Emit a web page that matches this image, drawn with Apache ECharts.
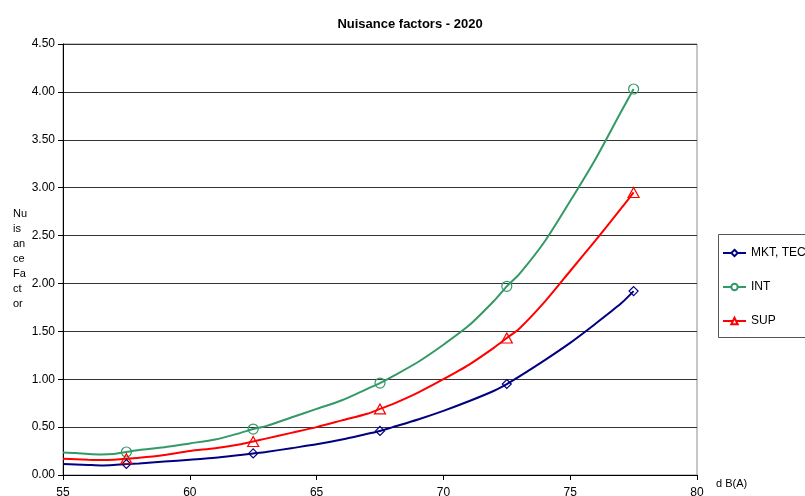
<!DOCTYPE html>
<html>
<head>
<meta charset="utf-8">
<script src="https://cdn.jsdelivr.net/npm/echarts@6/dist/echarts.min.js"></script>
<style>
  html, body { margin: 0; padding: 0; background: #fff; }
  #chart { width: 805px; height: 496px; }
</style>
</head>
<body>
<div id="chart"></div>
<script>
// Sound level (dB(A)) sample positions along each curve
var dbLevels = [55, 55.5, 56, 56.5, 57, 57.5, 58, 59, 60, 61, 62, 62.5, 63, 64, 65, 66, 67, 67.5,
                68, 69, 70, 71, 72, 72.5, 73, 74, 75, 76, 77, 77.5];
// Levels where a marker is drawn
var markerLevels = [57.5, 62.5, 67.5, 72.5, 77.5];

var seriesNames = ['MKT, TEC', 'INT', 'SUP'];

var mktTec = [0.115, 0.11, 0.105, 0.10, 0.105, 0.115, 0.12, 0.14, 0.16, 0.18, 0.21, 0.225, 0.24, 0.28, 0.32, 0.37, 0.43, 0.46,
              0.50, 0.58, 0.67, 0.77, 0.88, 0.95, 1.03, 1.20, 1.38, 1.58, 1.79, 1.92];
var intVals = [0.235, 0.23, 0.22, 0.215, 0.22, 0.24, 0.26, 0.29, 0.33, 0.37, 0.44, 0.48, 0.51, 0.60, 0.69, 0.78, 0.90, 0.96,
               1.03, 1.18, 1.36, 1.56, 1.82, 1.97, 2.10, 2.44, 2.86, 3.30, 3.79, 4.03];
var supVals = [0.17, 0.165, 0.16, 0.157, 0.16, 0.17, 0.18, 0.21, 0.25, 0.28, 0.32, 0.35, 0.38, 0.44, 0.50, 0.57, 0.64, 0.69,
               0.74, 0.86, 1.00, 1.15, 1.33, 1.43, 1.53, 1.81, 2.13, 2.45, 2.78, 2.95];

var yTicks = [0, 0.5, 1, 1.5, 2, 2.5, 3, 3.5, 4, 4.5];

var FONT = '"Liberation Sans", Arial, sans-serif';

function buildData(values) {
  return dbLevels.map(function (x, i) {
    var item = { value: [x, values[i]] };
    if (markerLevels.indexOf(x) < 0) item.symbol = 'none';
    return item;
  });
}

function lineSeries(name, values, color, symbol, size) {
  return {
    name: name,
    type: 'line',
    data: buildData(values),
    smooth: 0.25,
    showAllSymbol: true,
    symbol: symbol,
    symbolSize: size,
    lineStyle: { color: color, width: 2 },
    itemStyle: { color: 'rgba(255,255,255,0)', borderColor: color, borderWidth: 1.2 },
    emphasis: { disabled: true },
    z: 3
  };
}

var chart = echarts.init(document.getElementById('chart'), null, { renderer: 'canvas' });

chart.setOption({
  animation: false,
  backgroundColor: '#ffffff',
  title: {
    text: 'Nuisance factors - 2020',
    left: 405,
    textAlign: 'center',
    top: 13,
    textStyle: { fontFamily: FONT, fontSize: 13, fontWeight: 'bold', color: '#000' }
  },
  grid: {
    left: 63, right: 108, top: 44, bottom: 21,
    outerBoundsMode: 'none',
    containLabel: false,
    show: true, borderColor: '#8c8c8c', borderWidth: 1, backgroundColor: 'transparent'
  },
  legend: {
    orient: 'vertical',
    left: 722,
    top: 247,
    padding: 0,
    itemWidth: 23,
    itemHeight: 8,
    itemGap: 22,
    data: seriesNames,
    itemStyle: { color: '#ffffff' },
    textStyle: { fontFamily: FONT, fontSize: 12, color: '#000' }
  },
  xAxis: {
    type: 'value',
    min: 55, max: 80, interval: 5,
    axisLine: { show: true, onZero: false, lineStyle: { color: '#000', width: 1 } },
    axisTick: { show: true, inside: false, length: 5, lineStyle: { color: '#000' } },
    axisLabel: { fontFamily: FONT, fontSize: 12, color: '#000', margin: 12 },
    splitLine: { show: false }
  },
  yAxis: {
    type: 'value',
    min: yTicks[0], max: yTicks[yTicks.length - 1], interval: 0.5,
    axisLine: { show: true, lineStyle: { color: '#000', width: 1 } },
    axisTick: { show: true, inside: false, length: 5, lineStyle: { color: '#000' } },
    axisLabel: {
      fontFamily: FONT, fontSize: 12, color: '#000', margin: 8,
      formatter: function (v) { return v.toFixed(2); }
    },
    splitLine: { show: true, lineStyle: { color: '#333', width: 1 } }
  },
  series: [
    lineSeries(seriesNames[0], mktTec, '#000080', 'diamond', [9, 9]),
    lineSeries(seriesNames[1], intVals, '#339966', 'circle', 10),
    lineSeries(seriesNames[2], supVals, '#ff0000', 'triangle', [11, 10])
  ],
  graphic: [
    {
      type: 'rect',
      shape: { x: 718.5, y: 234.5, width: 100, height: 103 },
      style: { fill: 'rgba(255,255,255,0)', stroke: '#555', lineWidth: 1 },
      z: 1
    },
    {
      type: 'text',
      left: 13, top: 206,
      style: {
        text: 'Nu\nis\nan\nce\nFa\nct\nor',
        font: '11px ' + FONT,
        lineHeight: 15,
        fill: '#000'
      }
    },
    {
      type: 'text',
      left: 716, top: 478,
      style: { text: 'd B(A)', font: '11px ' + FONT, fill: '#000' }
    }
  ]
});
</script>
</body>
</html>
